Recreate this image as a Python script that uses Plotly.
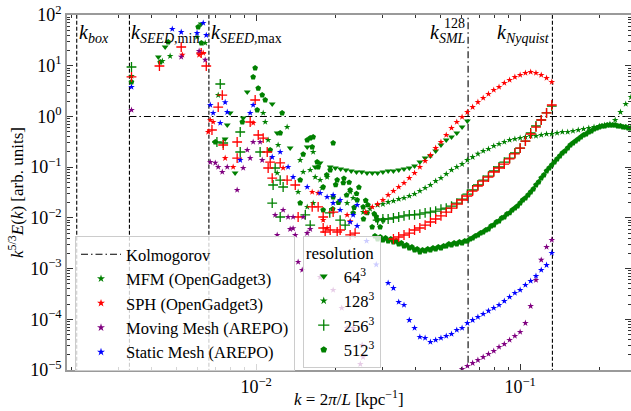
import math
import plotly.graph_objects as go

# ---------------- data ----------------
# log-spaced k bins (kpc^-1) used by the spectra
K_FINE = [0.01995, 0.02042, 0.02089, 0.02138, 0.02188, 0.02239, 0.02291, 0.02344, 0.02399, 0.02455,
          0.02512, 0.02570, 0.02630, 0.02692, 0.02754, 0.02818, 0.02884, 0.02951, 0.03020, 0.03090,
          0.03162, 0.03236, 0.03311, 0.03388, 0.03467, 0.03548, 0.03631, 0.03715, 0.03802, 0.03890,
          0.03981, 0.04074, 0.04169, 0.04266, 0.04365, 0.04467, 0.04571, 0.04677, 0.04786, 0.04898,
          0.05012, 0.05129, 0.05248, 0.05370, 0.05495, 0.05623, 0.05754, 0.05888, 0.06026, 0.06166,
          0.06310, 0.06457, 0.06607, 0.06761, 0.06918, 0.07079, 0.07244, 0.07413, 0.07586, 0.07762,
          0.07943, 0.08128, 0.08318, 0.08511, 0.08710, 0.08913, 0.09120, 0.09333, 0.09550, 0.09772,
          0.1000, 0.1023, 0.1047, 0.1072, 0.1096, 0.1122, 0.1148, 0.1175, 0.1202, 0.1230,
          0.1259, 0.1288, 0.1318, 0.1349, 0.1380, 0.1413, 0.1445, 0.1479, 0.1514, 0.1549,
          0.1585, 0.1622, 0.1660, 0.1698, 0.1738, 0.1778, 0.1820, 0.1862, 0.1905, 0.1950,
          0.1995, 0.2042, 0.2089, 0.2138, 0.2188, 0.2239, 0.2291, 0.2344, 0.2399, 0.2455,
          0.2512, 0.2570, 0.2630]
K_GRID = K_FINE[::2]

K_BOX = 0.00209
K_SEED_MIN = 0.00331
K_SEED_MAX = 0.00662
K_SML128 = 0.0635
K_NYQUIST = 0.1325
K_AXIS = [0.00192, 0.263]
E_AXIS = [1e-5, 1e2]

# MFM (OpenGadget3) 64^3
MFM64_K_LOW = [0.00426, 0.00452, 0.00619, 0.00763, 0.00777, 0.00797, 0.00832, 0.00893, 0.00925, 0.0115,
               0.01201, 0.01345, 0.01561, 0.01673, 0.01747, 0.01907]
MFM64_E_LOW = [14.9, 23.4, 66.5, 0.359, 0.677, 1.17, 0.0766, 0.931, 3.03, 1.76,
               0.471, 0.238, 0.249, 0.1006, 0.121, 0.1006]
MFM64_E_CURVE = [0.0962, 0.0918, 0.0878, 0.0839, 0.0802, 0.0802, 0.0766, 0.0766, 0.0766, 0.0802,
                 0.0839, 0.0839, 0.0878, 0.0918, 0.0962, 0.105, 0.126, 0.151, 0.166, 0.208,
                 0.273, 0.343, 0.393, 0.471, 0.618, 0.813]          # on K_GRID[0:26]

# MFM 128^3
MFM128_K_LOW = [0.00337, 0.00441, 0.00472, 0.00597, 0.00641, 0.00718, 0.01063, 0.01082, 0.0111, 0.01211,
                0.0131, 0.01644, 0.01468, 0.01201, 0.01507, 0.01602, 0.01673, 0.01747, 0.01857, 0.01442,
                0.01778, 0.01561, 0.01644, 0.0227, 0.0233, 0.02211, 0.02543, 0.0270]
MFM128_E_LOW = [6.27, 12.4, 15.5, 36.8, 28.1, 2.64, 1.17, 0.776, 0.343, 0.273,
                0.618, 0.199, 0.138, 0.0766, 0.0802, 0.0878, 0.0638, 0.0557, 0.0638, 0.0323,
                0.0388, 0.0164, 0.0196, 0.0323, 0.0246, 0.0196, 0.013, 0.0150]
MFM128_E_CURVE = [0.0179, 0.0187, 0.0205, 0.0215, 0.0235, 0.0246, 0.0270, 0.0295, 0.0338, 0.0388,
                  0.0445, 0.0532, 0.0611, 0.0733, 0.0878, 0.1006, 0.115, 0.138, 0.158, 0.182,
                  0.208, 0.228, 0.261, 0.286, 0.313, 0.343, 0.359, 0.375, 0.393, 0.411,
                  0.411, 0.430, 0.450, 0.450, 0.471, 0.493, 0.493, 0.516, 0.540, 0.565,
                  0.591, 0.618, 0.647, 0.677, 0.708, 0.85, 1.22, 1.76, 2.41]   # on K_GRID[8:57]

# MFM 256^3
MFM256_K_LOW = [0.00337, 0.00731, 0.0071, 0.0075, 0.0087, 0.0087, 0.01035, 0.01159, 0.0118, 0.01233,
                0.01265, 0.0115, 0.01233, 0.01535, 0.01602, 0.0208, 0.02173, 0.0190]
MFM256_E_LOW = [9.43, 4.36, 0.313, 0.299, 0.493, 0.199, 0.199, 0.0445, 0.0962, 0.0557,
                0.0406, 0.0196, 0.0104, 0.0114, 0.00722, 0.00906, 0.00722, 0.0125]
MFM256_E_CURVE = [0.00906, 0.00949, 0.00949, 0.00993, 0.0104, 0.0109, 0.0114, 0.0114, 0.0119, 0.0125,
                  0.0130, 0.0136, 0.0149, 0.0156, 0.0171, 0.0196, 0.0235, 0.0295, 0.0354, 0.0445,
                  0.0557, 0.0668, 0.0839, 0.1006, 0.126, 0.151, 0.190, 0.238, 0.327, 0.471,
                  0.647, 0.85, 1.17, 1.60]                              # on K_GRID[8:42]

# MFM 512^3
MFM512_K_LOW = [0.00337, 0.00433, 0.00464, 0.00603, 0.0062, 0.0070, 0.00886, 0.00991, 0.00974, 0.01018,
                0.01054, 0.01009, 0.01082, 0.01254, 0.0113, 0.01233, 0.01602, 0.01561, 0.01644, 0.0163,
                0.01507, 0.01957, 0.01702, 0.01717, 0.01907, 0.02027, 0.01468, 0.01794, 0.02138, 0.0227,
                0.01957, 0.02413, 0.01468, 0.02543, 0.01794, 0.0233, 0.02633, 0.0275, 0.02948, 0.02872,
                0.03027, 0.0185, 0.0200, 0.0215, 0.0225, 0.0240, 0.0245, 0.0260, 0.0265, 0.0280,
                0.0285, 0.0255, 0.0235, 0.0220, 0.0205, 0.0195]
MFM512_E_LOW = [4.77, 11.8, 29.4, 58.0, 28.1, 0.313, 0.776, 9.0, 6.0, 3.6,
                2.64, 1.34, 2.11, 1.17, 0.218, 0.471, 0.375, 0.343, 0.393, 0.249,
                0.18, 0.299, 0.126, 0.1006, 0.0878, 0.0557, 0.0557, 0.0406, 0.049, 0.0354,
                0.0258, 0.0225, 0.0196, 0.0164, 0.0143, 0.0125, 0.0125, 0.00659, 0.00659, 0.00906,
                0.00906, 0.07, 0.045, 0.06, 0.05, 0.03, 0.04, 0.022, 0.018, 0.012,
                0.0105, 0.0095, 0.016, 0.028, 0.02, 0.015]
MFM512_E_CURVE = [0.00439, 0.00383, 0.00419, 0.00366, 0.00400, 0.00349, 0.00383, 0.00334, 0.00349, 0.00305,
                  0.00319, 0.00279, 0.00291, 0.00254, 0.00266, 0.00232, 0.00243, 0.00212, 0.00232, 0.00222,
                  0.00243, 0.00232, 0.00254, 0.00243, 0.00266, 0.00254, 0.00279, 0.00279, 0.00305, 0.00291,
                  0.00319, 0.00305, 0.00334, 0.00319, 0.00349, 0.00349, 0.00383, 0.00400, 0.00439, 0.00459,
                  0.00502, 0.00526, 0.00576, 0.00603, 0.00690, 0.00722, 0.00828, 0.00867, 0.00993, 0.0104,
                  0.0119, 0.0125, 0.0143, 0.0156, 0.0171, 0.0196, 0.0225, 0.0246, 0.0282, 0.0323,
                  0.0371, 0.0445, 0.0509, 0.0611, 0.0700, 0.0839, 0.0962, 0.110, 0.126, 0.145,
                  0.166, 0.190, 0.208, 0.238, 0.273, 0.299, 0.327, 0.359, 0.393, 0.430,
                  0.450, 0.493, 0.516, 0.565, 0.591, 0.618, 0.647, 0.647, 0.677, 0.677,
                  0.677, 0.677, 0.647, 0.647, 0.618, 0.618, 0.591, 0.591]   # on K_FINE[15:113]

# SPH (OpenGadget3) 128^3
SPH128_K_LOW = [0.00525, 0.00608, 0.0063, 0.0067, 0.00687, 0.00658, 0.00818, 0.00763, 0.00974, 0.01265,
                0.0163, 0.01717, 0.01794, 0.02211, 0.0227, 0.01857, 0.0260]
SPH128_E_LOW = [16.3, 16.3, 17.8, 0.85, 0.776, 0.493, 0.1006, 0.151, 0.741, 0.0962,
                0.0323, 0.0309, 0.00906, 0.0114, 0.0085, 0.0063, 0.0130]
SPH128_E_CURVE = [0.0164, 0.0187, 0.0225, 0.0282, 0.0338, 0.0406, 0.0487, 0.0611, 0.0766, 0.1006,
                  0.132, 0.173, 0.238, 0.313, 0.430, 0.591, 0.776, 0.975, 1.22, 1.53,
                  1.92, 2.31, 2.77, 3.32, 3.80, 4.56, 5.22, 5.98, 6.56, 7.18,
                  7.52, 7.18, 6.56, 5.73, 4.77]                         # on K_GRID[7:42]

# SPH 256^3
SPH256_K_LOW = [0.00337, 0.0043, 0.0052, 0.00619, 0.00647, 0.00744, 0.00718, 0.0068, 0.0075, 0.00847,
                0.00991, 0.00949, 0.00847, 0.01018, 0.01063, 0.01101, 0.0113, 0.01233, 0.0111, 0.0115,
                0.0131, 0.01406, 0.01717, 0.01442, 0.0163, 0.01794, 0.01957, 0.01907, 0.0208, 0.01794,
                0.01825, 0.02027, 0.0227, 0.0237]
SPH256_E_LOW = [6.0, 9.86, 23.4, 17.8, 9.86, 2.64, 1.53, 0.54, 0.273, 0.313,
                2.11, 0.776, 0.151, 0.43, 0.375, 0.199, 0.126, 0.121, 0.0962, 0.061,
                0.0557, 0.0445, 0.0164, 0.0104, 0.0164, 0.0104, 0.0130, 0.00576, 0.00576, 0.00631,
                0.00526, 0.00526, 0.0046, 0.0050]
SPH256_E_CURVE = [0.00383, 0.00419, 0.00459, 0.00502, 0.00576, 0.00631, 0.00722, 0.00828, 0.00949, 0.0109,
                  0.0130, 0.0156, 0.0187, 0.0225, 0.0270, 0.0338, 0.0425, 0.0532, 0.0638, 0.0802,
                  0.0962, 0.115, 0.145, 0.182, 0.238, 0.327, 0.450, 0.618, 0.85, 1.17,
                  1.68]                                                 # on K_GRID[11:42]

# Moving Mesh (AREPO) 128^3
MM128_K_LOW = [0.00337, 0.0052, 0.00608, 0.00641, 0.0067, 0.0070, 0.00718, 0.00744, 0.00777, 0.00847,
               0.00925, 0.00974, 0.01035, 0.00893, 0.00949, 0.01054, 0.0118, 0.01265, 0.01321, 0.0138,
               0.0138, 0.01507, 0.01602, 0.01345, 0.0156, 0.01201, 0.01406, 0.01442, 0.01494, 0.01747,
               0.01957, 0.0211, 0.0221, 0.0233, 0.0252, 0.0254, 0.0248]
MM128_E_LOW = [1.34, 14.9, 19.5, 13.0, 0.126, 0.121, 0.1006, 0.0802, 0.1006, 0.0354,
               0.218, 0.313, 0.313, 0.0962, 0.151, 0.138, 0.0114, 0.0143, 0.0104, 0.0104,
               0.0062, 0.0104, 0.0060, 0.0060, 0.0050, 0.00459, 0.00459, 0.00135, 0.000936, 0.00068,
               0.000378, 0.000167, 0.0000673, 0.0000673, 0.0000311, 0.000018, 0.0000131]
MM128_E_CURVE = [1.04e-5, 1.20e-5, 1.37e-5, 1.57e-5, 1.80e-5, 2.07e-5, 2.37e-5, 2.84e-5, 3.25e-5, 3.90e-5,
                 4.68e-5, 5.61e-5, 8.43e-5, 1.82e-4, 5.94e-4, 1.48e-3, 2.66e-3, 3.66e-3]   # on K_GRID[24:42]

# Static Mesh (AREPO) 128^3
SM128_K_LOW = [0.00337, 0.00481, 0.0052, 0.00597, 0.0063, 0.00647, 0.0067, 0.00763, 0.00777, 0.00687,
               0.00731, 0.00974, 0.00949, 0.0087, 0.0115, 0.01233, 0.01321, 0.0138, 0.01561, 0.01747,
               0.01857, 0.01957, 0.01957, 0.0208, 0.02413, 0.0208, 0.0233, 0.0227, 0.02413, 0.0262,
               0.0285]
SM128_E_LOW = [3.80, 53.0, 46.0, 44.0, 69.5, 40.0, 1.68, 1.9, 1.22, 1.17,
               0.741, 1.68, 1.17, 0.138, 0.158, 0.199, 0.1006, 0.0638, 0.0406, 0.0309,
               0.0258, 0.0282, 0.0196, 0.0225, 0.0179, 0.0143, 0.0114, 0.00828, 0.0069, 0.0035,
               0.0012]
SM128_E_CURVE = [5.19e-4, 4.13e-4, 2.19e-4, 1.91e-4, 9.66e-5, 6.73e-5, 4.47e-5, 4.27e-5, 3.56e-5, 3.90e-5,
                 4.27e-5, 4.68e-5, 5.12e-5, 6.14e-5, 6.73e-5, 8.43e-5, 9.66e-5, 1.11e-4, 1.27e-4, 1.46e-4,
                 1.67e-4, 1.91e-4, 2.29e-4, 2.75e-4, 3.30e-4, 3.78e-4, 4.74e-4, 5.68e-4, 7.13e-4, 9.36e-4,
                 1.17e-3, 2.03e-3]                                     # on K_GRID[10:42]

METHODS = ["MFM (OpenGadget3)", "SPH (OpenGadget3)", "Moving Mesh (AREPO)", "Static Mesh (AREPO)"]
RESOLUTIONS = ["64<sup>3</sup>", "128<sup>3</sup>", "256<sup>3</sup>", "512<sup>3</sup>"]
X_TICKS = [0.01, 0.1]
X_TICKTEXT = ["10<sup>\u22122</sup>", "10<sup>\u22121</sup>"]
Y_TICKS = [1e-5, 1e-4, 1e-3, 1e-2, 1e-1, 1e0, 1e1, 1e2]
Y_TICKTEXT = ["10<sup>\u22125</sup>", "10<sup>\u22124</sup>", "10<sup>\u22123</sup>", "10<sup>\u22122</sup>",
              "10<sup>\u22121</sup>", "10<sup>0</sup>", "10<sup>1</sup>", "10<sup>2</sup>"]
X_TITLE = "<i>k</i> = 2<i>\u03c0</i>/<i>L</i> [kpc<sup>\u22121</sup>]"
Y_TITLE = "<i>k</i><sup>5/3</sup><i>E</i>(<i>k</i>) [arb. units]"

# ---------------- styles ----------------
GREEN, RED, PURPLE, BLUE = "#008000", "#ff0000", "#800080", "#0000ff"
METHOD_COLORS = [GREEN, RED, PURPLE, BLUE]
SYM = {"64": dict(symbol="triangle-down", size=6),
       "128": dict(symbol="star", size=5),
       "256": dict(symbol="cross-thin", size=7),
       "512": dict(symbol="pentagon", size=6)}
FONT = "Liberation Serif, Times New Roman, Times, DejaVu Serif, serif"

fig = go.Figure()

def vline(k, dash):
    fig.add_trace(go.Scatter(x=[k, k], y=[1e-6, 1e3], mode="lines", showlegend=False, hoverinfo="skip",
                             line=dict(color="black", width=1.1, dash=dash)))

DASHED = "4px,2px"
DASHDOT = "7px,3px,1.5px,3px"
vline(K_BOX, DASHED)
vline(K_SEED_MIN, DASHED)
vline(K_SEED_MAX, DASHED)
vline(K_SML128, DASHDOT)
vline(K_NYQUIST, DASHED)

# Kolmogorov reference
fig.add_trace(go.Scatter(x=[K_SEED_MIN, 1.0], y=[1.0, 1.0], mode="lines", name="Kolmogorov",
                         line=dict(color="black", width=1.1, dash=DASHDOT), legend="legend",
                         legendgroup="kol"))

def series(k, e, color, res):
    s = SYM[res]
    marker = dict(symbol=s["symbol"], size=s["size"], color=color)
    if res == "256":
        marker["line"] = dict(color=color, width=1.3)
    else:
        marker["line"] = dict(width=0)
    fig.add_trace(go.Scatter(x=k, y=e, mode="markers", marker=marker, showlegend=False, hoverinfo="skip"))

series(MFM64_K_LOW + K_GRID[0:26], MFM64_E_LOW + MFM64_E_CURVE, GREEN, "64")
series(MFM128_K_LOW + K_GRID[8:57], MFM128_E_LOW + MFM128_E_CURVE, GREEN, "128")
series(MFM512_K_LOW + K_FINE[15:113], MFM512_E_LOW + MFM512_E_CURVE, GREEN, "512")
series(MFM256_K_LOW + K_GRID[8:42], MFM256_E_LOW + MFM256_E_CURVE, GREEN, "256")
series(SPH128_K_LOW + K_GRID[7:42], SPH128_E_LOW + SPH128_E_CURVE, RED, "128")
series(SPH256_K_LOW + K_GRID[11:42], SPH256_E_LOW + SPH256_E_CURVE, RED, "256")
series(MM128_K_LOW + K_GRID[24:42], MM128_E_LOW + MM128_E_CURVE, PURPLE, "128")
series(SM128_K_LOW + K_GRID[10:42], SM128_E_LOW + SM128_E_CURVE, BLUE, "128")

# legend entries: methods
for name, col in zip(METHODS, METHOD_COLORS):
    fig.add_trace(go.Scatter(x=[None], y=[None], mode="markers", name=name, legend="legend",
                             legendgroup=name, marker=dict(symbol="star", size=6, color=col)))
# legend entries: resolutions
for res, label in zip(["64", "128", "256", "512"], RESOLUTIONS):
    s = SYM[res]
    m = dict(symbol=s["symbol"], size=s["size"] + 1, color=GREEN)
    if res == "256":
        m["line"] = dict(color=GREEN, width=1.3)
    fig.add_trace(go.Scatter(x=[None], y=[None], mode="markers", name=label, legend="legend2",
                             legendgroup="r" + res, marker=m))

# line labels
ann_font = dict(family=FONT, size=20, color="black")
YA = 0.99
annotations = [
    dict(x=math.log10(K_BOX), y=YA, text="<i>k<sub>box</sub></i>", xanchor="left", xshift=0),
    dict(x=math.log10(K_SEED_MIN), y=YA, text="<i>k</i><sub><i>SEED</i>,min</sub>", xanchor="left", xshift=0),
    dict(x=math.log10(K_SEED_MAX), y=YA, text="<i>k</i><sub><i>SEED</i>,max</sub>", xanchor="left", xshift=0),
    dict(x=math.log10(K_SML128), y=YA, text="<i>k<sub>SML</sub></i>", xanchor="right", xshift=0),
    dict(x=math.log10(K_SML128), y=YA + 0.012, text="128", xanchor="right", xshift=-1,
         font=dict(family=FONT, size=14, color="black")),
    dict(x=math.log10(K_NYQUIST), y=YA, text="<i>k<sub>Nyquist</sub></i>", xanchor="right", xshift=0),
]
for a in annotations:
    a.update(xref="x", yref="paper", yanchor="top", showarrow=False)
    a.setdefault("font", ann_font)
# x-axis title placed as paper-anchored text
annotations.append(dict(x=0.5, y=-0.079, xref="paper", yref="paper", xanchor="center", yanchor="middle",
                        text=X_TITLE, showarrow=False, font=dict(family=FONT, size=17, color="black")))

axis_common = dict(type="log", showgrid=False, zeroline=False, showline=True, linecolor="#9a9a9a",
                   linewidth=1.5, mirror="allticks", ticks="inside", ticklen=6, tickwidth=1,
                   tickcolor="#333333", tickfont=dict(family=FONT, size=18, color="black"))

x_minor = [m * 10.0 ** e for e in (-3, -2, -1) for m in range(2, 10)]
y_minor = [m * 10.0 ** e for e in range(-5, 2) for m in range(2, 10)]

fig.update_layout(
    width=631, height=411,
    margin=dict(l=67, r=0, t=15, b=41, autoexpand=False),
    paper_bgcolor="white", plot_bgcolor="white",
    font=dict(family=FONT, size=17, color="black"),
    annotations=annotations,
    xaxis=dict(axis_common, range=[math.log10(K_AXIS[0]), math.log10(K_AXIS[1])],
               tickmode="array", tickvals=X_TICKS, ticktext=X_TICKTEXT,
               minor=dict(tickmode="array", tickvals=x_minor, ticks="inside", ticklen=3,
                          tickcolor="#333333", showgrid=False)),
    yaxis=dict(axis_common, range=[math.log10(E_AXIS[0]), math.log10(E_AXIS[1])],
               tickmode="array", tickvals=Y_TICKS, ticktext=Y_TICKTEXT,
               minor=dict(tickmode="array", tickvals=y_minor, ticks="inside", ticklen=3,
                          tickcolor="#333333", showgrid=False),
               title=dict(text=Y_TITLE, font=dict(family=FONT, size=17), standoff=2)),
    legend=dict(x=0.0142, y=0.3775, xanchor="left", yanchor="top", bgcolor="rgba(255,255,255,0.8)",
                bordercolor="#cccccc", borderwidth=1, font=dict(family=FONT, size=16.5),
                tracegroupgap=0, itemwidth=40, traceorder="normal"),
    legend2=dict(x=0.418, y=0.3775, xanchor="left", yanchor="top", bgcolor="rgba(255,255,255,0.8)",
                 bordercolor="#cccccc", borderwidth=1, font=dict(family=FONT, size=16.5),
                 title=dict(text="resolution", font=dict(family=FONT, size=17), side="top"),
                 tracegroupgap=0, itemwidth=30, traceorder="normal"),
)

fig.write_html("out.html",
               config={"displayModeBar": False},
               post_script="document.body.style.margin='0';document.body.style.padding='0';"
                           "document.body.style.overflow='hidden';")
